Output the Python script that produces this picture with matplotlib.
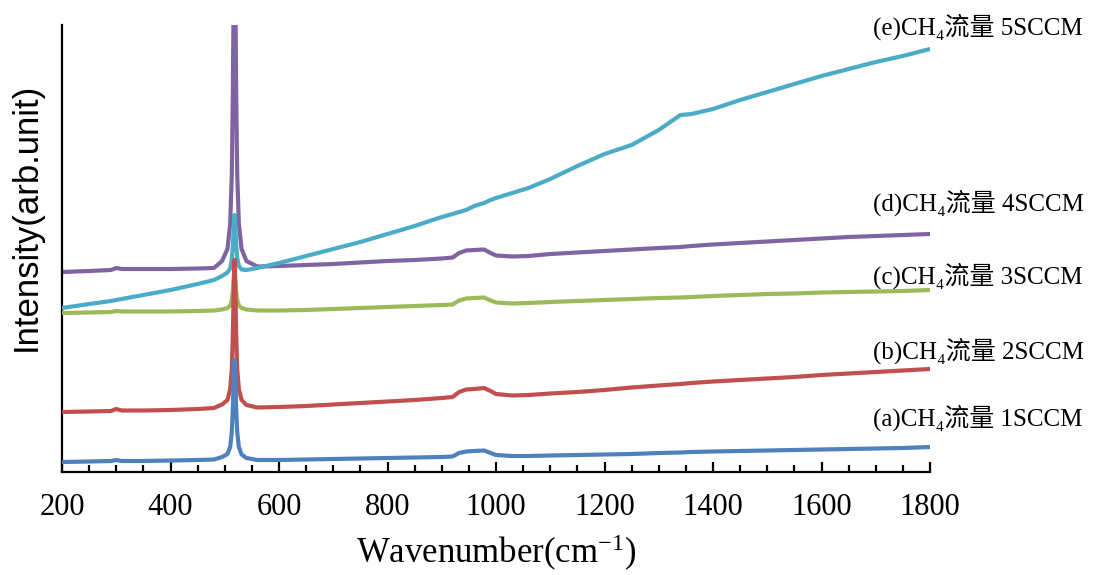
import matplotlib
matplotlib.use("Agg")
import matplotlib.pyplot as plt
from matplotlib.ticker import MultipleLocator

# 字体：Times 风格 + 中文回退
plt.rcParams["font.family"] = ["Liberation Serif", "Noto Sans CJK SC", "DejaVu Sans"]
plt.rcParams["mathtext.fontset"] = "custom"
plt.rcParams["mathtext.rm"] = "Liberation Serif"
plt.rcParams["mathtext.it"] = "Liberation Serif:italic"
plt.rcParams["axes.unicode_minus"] = False

# 波数 (cm-1)
wn = [200, 250, 290, 300, 310, 350, 400, 450, 480, 495,
      505, 510, 513, 515, 516, 517, 518, 519, 520, 521,
      523, 526, 531, 540, 560, 600, 650, 700, 750, 800,
      850, 900, 920, 932, 945, 960, 978, 990, 1000, 1030,
      1060, 1100, 1150, 1200, 1250, 1300, 1340, 1360, 1400, 1450,
      1500, 1550, 1600, 1650, 1700, 1750, 1800]

# 各样品强度 (任意单位)
inten_a = [10, 10.5, 11, 12, 11, 11, 11.5, 12, 12.5, 15,
           18, 25, 40, 64, 84, 105, 112, 105, 84, 64,
           40, 25, 17.5, 14, 12, 12, 12.5, 13, 13.5, 14,
           14.5, 15, 15.5, 19, 20.5, 21, 21.5, 19, 17, 16,
           16, 16.5, 17, 17.5, 18, 19, 19.5, 20, 20.5, 21,
           21.5, 22, 22.5, 23, 23.5, 24, 25]
inten_b = [60, 60.5, 61, 63, 61.5, 61.5, 62, 63, 64, 67.5,
           72, 83, 103, 139, 168, 197, 212, 197, 168, 139,
           103, 83, 72, 67, 64.5, 65, 66, 67.5, 69, 70.5,
           72, 74, 75, 80, 82.5, 83, 84, 81, 78, 76.5,
           77, 78.5, 80, 82, 84.5, 86.5, 88, 89, 90.5, 92,
           93.5, 95, 97, 98.5, 100, 101.5, 103]
inten_c = [159, 159.5, 160, 161, 160.5, 160.5, 160.5, 161, 161.5, 162.5,
           164, 166.5, 172, 181, 188.5, 196, 200, 196, 188.5, 181,
           172, 166.5, 164, 162.5, 161.5, 161.5, 162, 163, 164, 165,
           166, 167, 167.5, 171.5, 173.5, 174, 174.5, 171.5, 169.5, 168.5,
           169, 170, 171, 172, 173, 174, 174.5, 175, 176, 177,
           178, 178.5, 179.5, 180, 180.5, 181, 182]
inten_d = [200, 201, 202, 204, 203, 203, 203, 203.5, 204, 211,
           223, 248, 297, 383, 453, 525, 560, 525, 453, 383,
           297, 248, 223, 211, 205.5, 206, 207, 208, 209.5, 211,
           212, 213.5, 214.5, 219, 221.5, 222, 222.5, 219, 216.5, 215.5,
           216, 218, 219.5, 221, 222.5, 224, 225, 226, 227.5, 229,
           230.5, 232, 233.5, 235, 236, 237, 238]
inten_e = [164, 168, 171, 172, 173, 177, 182, 188, 192, 196,
           199.5, 203.5, 212.5, 227, 238, 250.5, 257, 251, 239, 228,
           214, 206, 202.5, 202, 204, 209, 216, 223, 230, 238,
           246, 255, 258, 260, 262, 266, 269, 272, 274, 279,
           284, 293, 306, 318, 327, 342, 357, 358, 363, 372,
           380, 388, 396, 403, 410, 416, 423]

labels = ["(a)CH₄流量 1SCCM", "(b)CH₄流量 2SCCM", "(c)CH₄流量 3SCCM",
          "(d)CH₄流量 4SCCM", "(e)CH₄流量 5SCCM"]
label_y = [54, 121, 196, 269, 445]

colors = ["#4F81BD", "#C0504D", "#9BBB59", "#8064A2", "#4BACC6"]
series = [inten_a, inten_b, inten_c, inten_d, inten_e]
zorders = [6, 5, 4, 2, 3]

fig = plt.figure(figsize=(10.99, 5.75), dpi=100)
ax = fig.add_axes([62 / 1099, 1 - 472 / 575, 868 / 1099, 447 / 575])

for y, c, z in zip(series, colors, zorders):
    ax.plot(wn, y, color=c, lw=3, zorder=z, solid_joinstyle="round")

for txt, ly in zip(labels, label_y):
    ax.text(1695, ly, txt, fontsize=18, ha="left", va="center", clip_on=False)

ax.set_xlim(200, 1800)
ax.set_ylim(0, 447)
ax.spines["top"].set_visible(False)
ax.spines["right"].set_visible(False)
ax.spines["left"].set_linewidth(1.6)
ax.spines["bottom"].set_linewidth(1.6)
ax.set_yticks([])
ax.xaxis.set_major_locator(MultipleLocator(200))
ax.xaxis.set_minor_locator(MultipleLocator(50))
ax.tick_params(axis="x", which="major", direction="in", length=7, width=1.6,
               labelsize=22, pad=15)
ax.tick_params(axis="x", which="minor", direction="in", length=5, width=1.6)

ax.set_xlabel("Wavenumber(cm$^{-1}$)", fontsize=25, labelpad=8)
ax.set_ylabel("Intensity(arb.unit)", fontsize=25, family="Liberation Sans")
ax.yaxis.set_label_coords(-0.022, 0.57)

fig.savefig("out.png", dpi=100)
